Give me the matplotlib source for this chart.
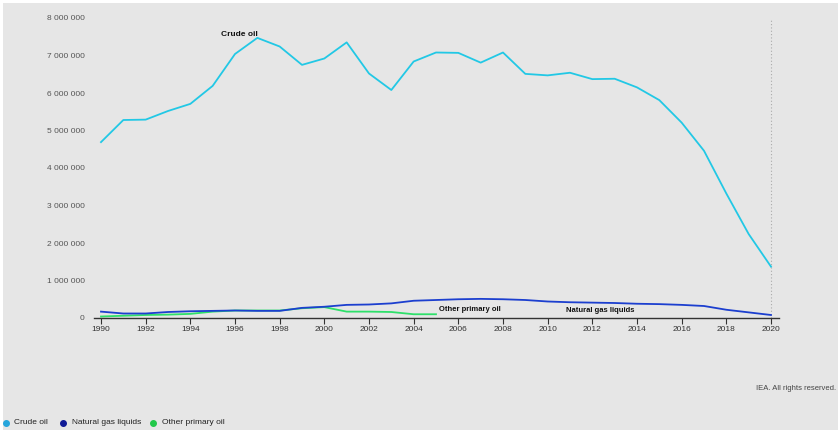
import matplotlib
matplotlib.use("Agg")
import matplotlib.pyplot as plt
from matplotlib.lines import Line2D
from matplotlib.patches import Rectangle
from matplotlib.ticker import FuncFormatter

years = list(range(1990, 2021))
crude_oil = [4.69, 5.28, 5.29, 5.52, 5.71, 6.19, 7.04, 7.47, 7.24, 6.75, 6.92, 7.35,
             6.52, 6.08, 6.84, 7.08, 7.07, 6.81, 7.08, 6.51, 6.47, 6.54, 6.37, 6.38,
             6.15, 5.81, 5.21, 4.46, 3.32, 2.24, 1.37]
crude_oil = [v * 1e6 for v in crude_oil]
ngl = [0.17, 0.12, 0.12, 0.16, 0.18, 0.19, 0.20, 0.19, 0.19, 0.27, 0.30, 0.35,
       0.36, 0.39, 0.46, 0.48, 0.50, 0.51, 0.50, 0.48, 0.44, 0.42, 0.41, 0.40,
       0.38, 0.37, 0.35, 0.32, 0.22, 0.15, 0.08]
ngl = [v * 1e6 for v in ngl]
opo_years = list(range(1990, 2006))
other_primary = [0.04, 0.06, 0.08, 0.09, 0.11, 0.17, 0.20, 0.20, 0.20, 0.26, 0.29, 0.17,
                 0.17, 0.16, 0.10, 0.10]
other_primary = [v * 1e6 for v in other_primary]

series_names = ["Crude oil", "Natural gas liquids", "Other primary oil"]
line_colors = ["#22c8e5", "#1c3fcf", "#2ee06a"]
legend_colors = ["#27a6dc", "#101a96", "#22c84a"]
xticks = list(range(1990, 2021, 2))
yticks = [0, 1e6, 2e6, 3e6, 4e6, 5e6, 6e6, 7e6, 8e6]

W, H = 838, 430
fig = plt.figure(figsize=(W / 100, H / 100), dpi=100)
fig.patch.set_facecolor("white")
fig.patches.append(Rectangle((3 / W, 0), 1 - 3 / W, 1 - 3 / H, transform=fig.transFigure,
                             facecolor="#e6e6e6", edgecolor="none", zorder=-10))

ax = fig.add_axes([94.3 / W, (H - 318) / H, 684.5 / W, 300 / H])
ax.set_facecolor("none")
for s in ["top", "right", "left"]:
    ax.spines[s].set_visible(False)
ax.spines["bottom"].set_color("#333333")
ax.spines["bottom"].set_linewidth(1.0)

ax.plot(years, crude_oil, color=line_colors[0], lw=1.3, zorder=3)
ax.plot(years, ngl, color=line_colors[1], lw=1.3, zorder=3)
ax.plot(opo_years, other_primary, color=line_colors[2], lw=1.3, zorder=2)

ax.set_xlim(1989.7, 2020.35)
ax.set_ylim(0, 8e6)
ax.set_xticks(xticks)
ax.set_yticks(yticks)
ax.yaxis.set_major_formatter(FuncFormatter(lambda v, p: f"{int(v):,}".replace(",", " ")))
ax.tick_params(axis="y", length=0, pad=7, labelsize=6, labelcolor="#555555")
ax.tick_params(axis="x", length=4, width=0.8, color="#333333", pad=1.5, labelsize=6,
               labelcolor="#333333")
for lab in ax.get_xticklabels() + ax.get_yticklabels():
    lab.set_fontfamily("Liberation Sans")

ax.axvline(2020, color="#aaaaaa", lw=0.8, ls=(0, (1, 2)), zorder=1)

ax.text(1996.2, 7.57e6, "Crude oil", fontsize=6, fontweight="bold", ha="center",
        va="center", color="#111111", family="Liberation Sans")
ax.text(2005.15, 0.23e6, "Other primary oil", fontsize=5.5, fontweight="bold", ha="left",
        va="center", color="#111111", family="Liberation Sans")
ax.text(2010.8, 0.19e6, "Natural gas liquids", fontsize=5.5, fontweight="bold", ha="left",
        va="center", color="#111111", family="Liberation Sans")

fig.text(836 / W, 1 - 389 / H, "IEA. All rights reserved.", fontsize=5.5, color="#444444",
         ha="right", va="center", family="Liberation Sans")

# legend (manual placement)
leg_marker_x = [6, 63, 153]
leg_text_x = [14, 72, 162]
leg_y = 1 - 423 / H
for name, c, mx, tx in zip(series_names, legend_colors, leg_marker_x, leg_text_x):
    fig.add_artist(Line2D([mx / W], [leg_y], transform=fig.transFigure, ls="none",
                          marker="o", markersize=4, markerfacecolor=c, markeredgecolor=c))
    fig.text(tx / W, leg_y, name, fontsize=6, color="#222222", ha="left", va="center",
             family="Liberation Sans")

fig.savefig("out.png", dpi=100)
